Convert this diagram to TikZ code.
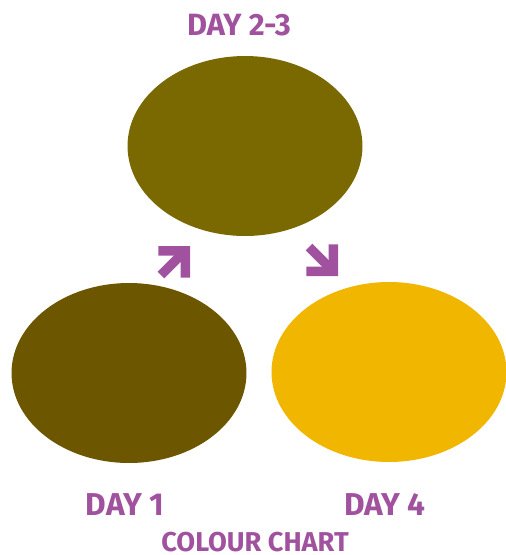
\documentclass[tikz,border=0pt]{standalone}
\usepackage{fontspec}
\setmainfont{Fira Sans}
\usetikzlibrary{arrows.meta, shapes.geometric}
\definecolor{dayviolet}{HTML}{A0529E}
\definecolor{dayone}{HTML}{6D5600}
\definecolor{daytwo}{HTML}{7A6800}
\definecolor{dayfour}{HTML}{F1B600}

\begin{document}
\begin{tikzpicture}[x=0.02cm, y=-0.02cm]
\tikzset{blob/.style = {shape=ellipse, draw=none, minimum width=4.7cm, minimum height=3.6cm, inner sep=0pt}}
    \tikzset{daylabel/.style = {text=dayviolet, font=\fontsize{18}{18}\selectfont\bfseries, inner sep=0pt}}
    \tikzset{dayarrow/.style = {draw=dayviolet, line width=0.19cm, -{Straight Barb[length=0.38cm, width=0.76cm]}}}
\useasboundingbox (0,0) rectangle (506,555);
% Define the colour blobs
\node[blob, fill=daytwo] (D23) at (245,146){};
\node[blob, fill=dayone] (D1) at (129,373){};
\node[blob, fill=dayfour] (D4) at (389,372){};
\coordinate (up tail) at (161,275);
\coordinate (up tip) at (190,246);
\coordinate (down tail) at (309,247);
\coordinate (down tip) at (338,276);

% Draw the labels
\node[daylabel, font=\fontsize{17.5}{17.5}\selectfont\bfseries] (L23) at (239,25){DAY 2-3};
\node[daylabel] (L1) at (125,505){DAY 1};
\node[daylabel] (L4) at (385,505){DAY 4};
\node[daylabel, font=\fontsize{15.5}{15.5}\selectfont\bfseries] (title) at (255,542){COLOUR CHART};

% Draw the arrows
\draw[dayarrow] (up tail) to (up tip);
\draw[dayarrow] (down tail) to (down tip);

\end{tikzpicture}
\end{document}
